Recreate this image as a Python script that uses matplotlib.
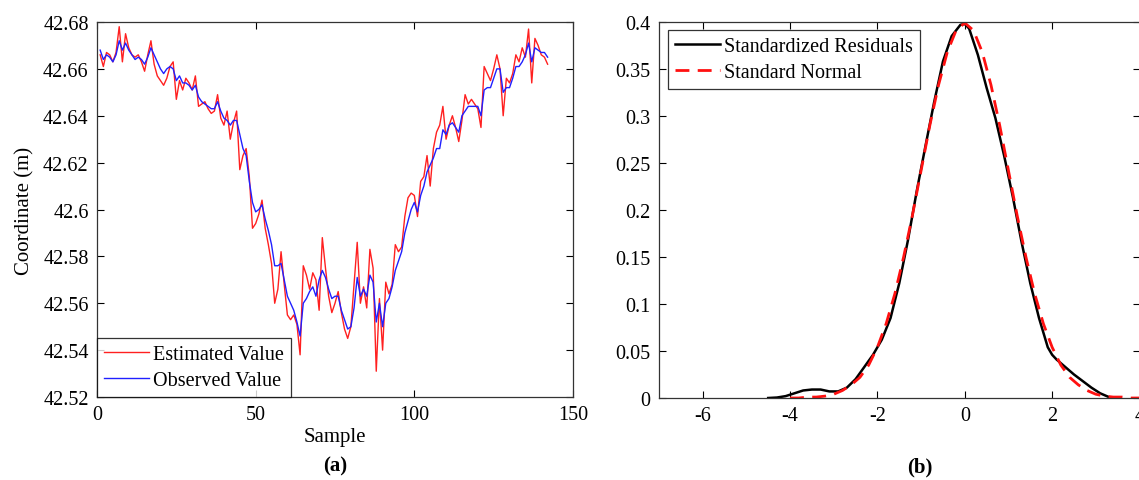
import numpy as np
import matplotlib.pyplot as plt

# sample index
sample = np.arange(1, 143)

# observed coordinate (m)
observed = [
    42.668, 42.664, 42.666, 42.665, 42.663, 42.666, 42.672, 42.668, 42.671, 42.668,
    42.666, 42.664, 42.665, 42.664, 42.662, 42.665, 42.669, 42.666, 42.663, 42.660,
    42.658, 42.660, 42.661, 42.660, 42.655, 42.657, 42.654, 42.654, 42.653, 42.651,
    42.653, 42.648, 42.646, 42.645, 42.644, 42.643, 42.643, 42.646, 42.642, 42.639,
    42.638, 42.636, 42.638, 42.638, 42.632, 42.626, 42.623, 42.612, 42.603, 42.599,
    42.600, 42.602, 42.596, 42.591, 42.585, 42.576, 42.576, 42.577, 42.570, 42.563,
    42.560, 42.557, 42.552, 42.546, 42.560, 42.562, 42.565, 42.567, 42.563, 42.570,
    42.574, 42.571, 42.566, 42.562, 42.563, 42.563, 42.557, 42.553, 42.549, 42.550,
    42.558, 42.571, 42.563, 42.566, 42.563, 42.572, 42.569, 42.552, 42.560, 42.550,
    42.560, 42.562, 42.567, 42.574, 42.578, 42.582, 42.590, 42.595, 42.600, 42.603,
    42.599, 42.606, 42.610, 42.616, 42.619, 42.622, 42.626, 42.626, 42.634, 42.632,
    42.636, 42.637, 42.635, 42.633, 42.640, 42.642, 42.644, 42.644, 42.644, 42.644,
    42.640, 42.651, 42.652, 42.652, 42.656, 42.660, 42.660, 42.650, 42.652, 42.652,
    42.656, 42.661, 42.661, 42.663, 42.666, 42.671, 42.663, 42.669, 42.668, 42.667,
    42.667, 42.665,
]

# filter estimate (m)
estimated = [
    42.666, 42.661, 42.667, 42.666, 42.663, 42.667, 42.678, 42.663, 42.675, 42.669,
    42.666, 42.665, 42.666, 42.663, 42.659, 42.666, 42.672, 42.662, 42.657, 42.655,
    42.653, 42.656, 42.661, 42.663, 42.647, 42.655, 42.651, 42.656, 42.654, 42.651,
    42.657, 42.644, 42.645, 42.646, 42.643, 42.641, 42.642, 42.649, 42.639, 42.636,
    42.642, 42.630, 42.637, 42.642, 42.617, 42.623, 42.626, 42.614, 42.592, 42.594,
    42.598, 42.604, 42.592, 42.585, 42.577, 42.560, 42.566, 42.582, 42.568, 42.555,
    42.553, 42.555, 42.551, 42.538, 42.576, 42.572, 42.566, 42.573, 42.570, 42.557,
    42.588, 42.575, 42.563, 42.556, 42.560, 42.565, 42.556, 42.549, 42.545, 42.550,
    42.568, 42.586, 42.560, 42.567, 42.558, 42.583, 42.575, 42.531, 42.562, 42.540,
    42.569, 42.564, 42.568, 42.585, 42.582, 42.584, 42.597, 42.605, 42.607, 42.606,
    42.597, 42.612, 42.614, 42.623, 42.610, 42.626, 42.633, 42.636, 42.644, 42.630,
    42.636, 42.640, 42.635, 42.629, 42.638, 42.649, 42.645, 42.647, 42.645, 42.643,
    42.635, 42.661, 42.658, 42.655, 42.660, 42.666, 42.660, 42.640, 42.656, 42.654,
    42.658, 42.666, 42.663, 42.669, 42.665, 42.677, 42.654, 42.673, 42.670, 42.666,
    42.665, 42.662,
]

# density of the standardized residuals
resid_x = [-4.5, -4.3, -4.1, -3.9, -3.7, -3.5, -3.3, -3.1, -2.9, -2.7,
           -2.5, -2.3, -2.1, -1.9, -1.7, -1.5, -1.3, -1.1, -0.9, -0.7,
           -0.5, -0.3, -0.1, 0.0, 0.1, 0.3, 0.5, 0.7, 0.9, 1.1,
           1.3, 1.5, 1.7, 1.9, 2.0, 2.1, 2.3, 2.5, 2.7, 2.9,
           3.1, 3.3, 3.45]
resid_pdf = [0.000, 0.0005, 0.002, 0.005, 0.008, 0.009, 0.009, 0.007, 0.007, 0.011,
             0.020, 0.033, 0.046, 0.062, 0.085, 0.122, 0.168, 0.220, 0.268, 0.315,
             0.358, 0.385, 0.397, 0.398, 0.393, 0.365, 0.330, 0.298, 0.258, 0.214,
             0.166, 0.122, 0.085, 0.054, 0.046, 0.041, 0.033, 0.025, 0.018, 0.011,
             0.005, 0.001, 0.000]

# standard normal reference density
norm_x = [-4.0, -3.8, -3.6, -3.4, -3.2, -3.0, -2.8, -2.6, -2.4, -2.2,
          -2.0, -1.8, -1.6, -1.4, -1.2, -1.0, -0.8, -0.6, -0.4, -0.2,
          0.0, 0.2, 0.4, 0.6, 0.8, 1.0, 1.2, 1.4, 1.6, 1.8,
          2.0, 2.2, 2.4, 2.6, 2.8, 3.0, 3.2, 3.4, 3.6, 3.8, 4.0]
norm_pdf = [0.000, 0.000, 0.001, 0.001, 0.002, 0.004, 0.008, 0.014, 0.022, 0.035,
            0.054, 0.079, 0.111, 0.150, 0.194, 0.242, 0.290, 0.333, 0.368, 0.391,
            0.399, 0.391, 0.368, 0.333, 0.290, 0.242, 0.194, 0.150, 0.111, 0.079,
            0.054, 0.035, 0.022, 0.014, 0.008, 0.004, 0.002, 0.001, 0.001, 0.000, 0.000]

plt.rcParams['font.family'] = ['Liberation Serif', 'DejaVu Serif']
plt.rcParams['font.size'] = 14.5
plt.rcParams['axes.unicode_minus'] = False


def matlab_axes(ax):
    ax.tick_params(direction='in', top=True, right=True, length=5, width=0.8,
                   labelsize=14.5, pad=6)
    for sp in ax.spines.values():
        sp.set_linewidth(0.9)
        sp.set_color('#333333')


def boxed_legend(ax, **kw):
    leg = ax.legend(fontsize=14.5, fancybox=False, edgecolor='black',
                    borderaxespad=0, handlelength=2.25, handletextpad=0.2,
                    borderpad=0.35, labelspacing=0.35, **kw)
    leg.get_frame().set_linewidth(0.9)
    return leg


fig = plt.figure(figsize=(11.39, 4.81), dpi=100)

# (a) coordinate time series
ax1 = fig.add_axes([97 / 1139, 1 - 398 / 481, 476 / 1139, 375 / 481])
ax1.plot(sample, estimated, color='#ff2020', lw=1.0, label='Estimated Value')
ax1.plot(sample, observed, color='#2020ff', lw=1.0, label='Observed Value')
ax1.set_xlim(0, 150)
ax1.set_ylim(42.52, 42.68)
ax1.set_xticks([0, 50, 100, 150])
ax1.set_yticks(np.arange(42.52, 42.681, 0.02))
ax1.set_yticklabels(['42.52', '42.54', '42.56', '42.58', '42.6',
                     '42.62', '42.64', '42.66', '42.68'])
ax1.set_xlabel('Sample', fontsize=15, labelpad=2)
ax1.set_ylabel('Coordinate (m)', fontsize=15, labelpad=6)
matlab_axes(ax1)
boxed_legend(ax1, loc='lower left')
ax1.text(0.5, -0.155, '(a)', transform=ax1.transAxes, ha='center', va='top',
         fontsize=15, fontweight='bold')

# (b) residual density vs standard normal; the right edge runs off the page
ax2 = fig.add_axes([659 / 1139, 1 - 399 / 481, 480.5 / 1139, 376 / 481])
ax2.plot(resid_x, resid_pdf, color='black', lw=1.8, label='Standardized Residuals')
ax2.plot(norm_x, norm_pdf, color='#ff1010', lw=2.0, ls=(0, (5, 3)),
         label='Standard Normal')
ax2.set_xlim(-7, 4)
ax2.set_ylim(0, 0.4)
ax2.set_xticks([-6, -4, -2, 0, 2, 4])
ax2.set_yticks(np.arange(0, 0.401, 0.05))
ax2.set_yticklabels(['0', '0.05', '0.1', '0.15', '0.2', '0.25', '0.3', '0.35', '0.4'])
matlab_axes(ax2)
boxed_legend(ax2, loc='upper left', bbox_to_anchor=(0.018, 0.98))
ax2.text(0.543, -0.155, '(b)', transform=ax2.transAxes, ha='center', va='top',
         fontsize=15, fontweight='bold')

fig.savefig('out.png', dpi=100)
